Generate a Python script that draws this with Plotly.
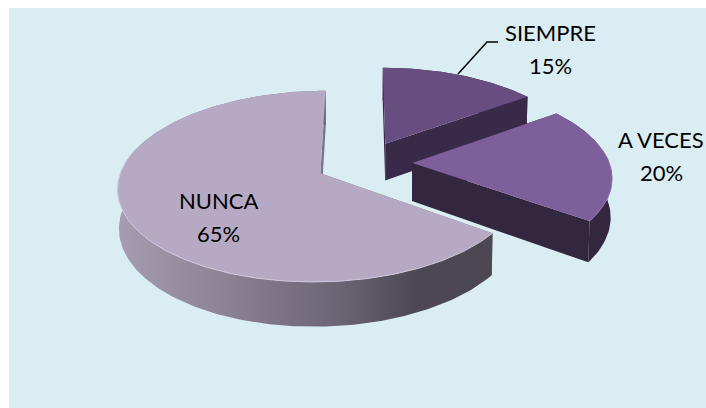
import math
import plotly.graph_objects as go

categories = ["SIEMPRE", "A VECES", "NUNCA"]
values = [15, 20, 65]
top_colors = ["#684E80", "#7D5F9C", "#B5A9C4"]
wall_colors = ["#3A2A4A", "#33263F", "#7A7482"]
label_positions = [(550, 32), (661, 139), (218, 200)]
LINE_GAP = 33

# projection parameters of the tilted pie
X0, Y0, K, A, P, EXPLODE, DEPTH, CONVERGE = 364, 163, 197, 91, 0.135, 0.245, 38, 0.00015


def project(x, y, z=0.0):
    w = 1 + P * y
    return X0 + K * x / w * (1 - CONVERGE * z), Y0 - A * y / w + z / w


def slice_geometry(start, end):
    mid = math.radians((start + end) / 2)
    cx, cy = EXPLODE * math.sin(mid), EXPLODE * math.cos(mid)
    n = max(8, int(abs(end - start)))
    rim = []
    for i in range(n + 1):
        t = math.radians(start + (end - start) * i / n)
        rim.append((cx + math.sin(t), cy + math.cos(t)))
    return (cx, cy), rim


def poly(fig, pts, **kw):
    xs = [p[0] for p in pts] + [pts[0][0]]
    ys = [p[1] for p in pts] + [pts[0][1]]
    fig.add_trace(go.Scatter(x=xs, y=ys, mode="lines", fill="toself", line=dict(width=0),
                             hoverinfo="skip", showlegend=False, **kw))


fig = go.Figure()
total = sum(values)
spans = []
acc = 0
for v in values:
    spans.append((acc / total * 360, (acc + v) / total * 360))
    acc += v

for idx in [0, 2, 1]:
    start, end = spans[idx]
    apex, rim = slice_geometry(start, end)
    top = [project(*apex)] + [project(*p) for p in rim]
    # radial walls
    for corner in (rim[0], rim[-1]):
        poly(fig, [project(*apex), project(*corner), project(*corner, DEPTH), project(*apex, DEPTH)],
             fillcolor=wall_colors[idx])
    # outer wall
    strip = [project(*p) for p in rim] + [project(*p, DEPTH) for p in reversed(rim)]
    if categories[idx] == "NUNCA":
        poly(fig, strip, fillgradient=dict(type="horizontal", colorscale=[
            [0, "#A79DB2"], [0.3, "#8A8192"], [0.6, "#6A6372"], [0.8, "#4C4753"], [1, "#4C4852"]]))
    else:
        poly(fig, strip, fillcolor=wall_colors[idx])
    # top face
    poly(fig, top, fillcolor=top_colors[idx])
    # light rim of the bevel on the front edge
    front = [project(*p) for p in rim if p[1] < apex[1] + 0.15]
    if categories[idx] != "SIEMPRE":
        fig.add_trace(go.Scatter(x=[p[0] for p in front], y=[p[1] for p in front], mode="lines",
                                 line=dict(width=1, color="#CFC8DA" if idx == 2 else "#8F74AC"),
                                 hoverinfo="skip", showlegend=False))

# leader line of SIEMPRE
leader_x = [458, 487, 498]
leader_y = [74, 42, 42]
fig.add_trace(go.Scatter(x=leader_x, y=leader_y, mode="lines", line=dict(color="#000000", width=1.5),
                         hoverinfo="skip", showlegend=False))

annotations = []
for name, v, (lx, ly) in zip(categories, values, label_positions):
    for text, yy in ((name, ly), (f"{v}%", ly + LINE_GAP)):
        annotations.append(dict(x=lx, y=yy, text=text, showarrow=False, xref="x", yref="y",
                                font=dict(family="Lato", size=22, color="#000000")))

fig.update_layout(
    width=706, height=408, margin=dict(l=0, r=0, t=0, b=0),
    paper_bgcolor="#FFFFFF", plot_bgcolor="#FFFFFF",
    xaxis=dict(range=[0, 706], visible=False, fixedrange=True),
    yaxis=dict(range=[408, 0], visible=False, fixedrange=True),
    shapes=[dict(type="rect", xref="x", yref="y", x0=9, y0=8, x1=706, y1=408,
                 fillcolor="#DAEDF3", line=dict(width=0), layer="below")],
    annotations=annotations,
)
fig.write_html("out.html", config={"displayModeBar": False},
               post_script="document.body.style.margin='0';document.body.style.overflow='hidden';")
